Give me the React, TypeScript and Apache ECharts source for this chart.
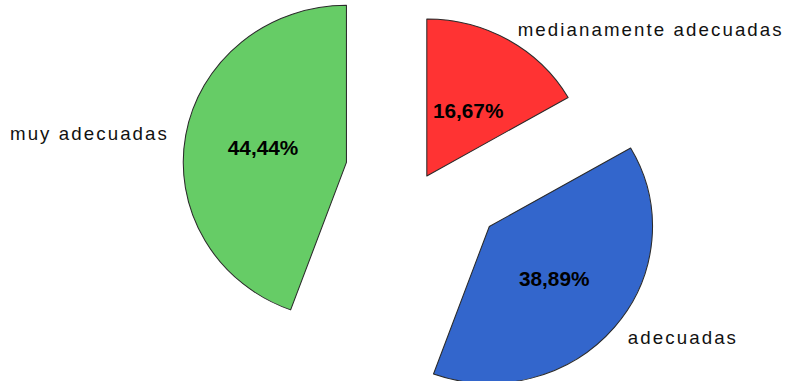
import React, { useEffect, useRef } from "react";
import * as echarts from "echarts";

// ---- data ----
const categories = ["medianamente adecuadas", "adecuadas", "muy adecuadas"];
const counts = [3, 7, 8];
const exploded = [false, true, true];
const sliceColors = ["#FF3333", "#3366CC", "#66CC66"];

// ---- layout (unscaled chart coords) ----
const labelAnchors: [number, number][] = [
  [498, 30],
  [604, 338],
  [9.6, 134],
];
const percentLabelNudge: [number, number][] = [
  [-1, 6],
  [0, -1],
  [-2, 3],
];

const SCALE_X = 790 / 760;

export default function App() {
  const ref = useRef<HTMLDivElement>(null);

  useEffect(() => {
    const el = ref.current;
    if (!el) return;
    const chart = echarts.init(el, null, { renderer: "svg" });

    const sliceData = categories.map((name, i) => ({
      name,
      value: counts[i],
      selected: exploded[i],
      itemStyle: { color: sliceColors[i] },
      label: { offset: percentLabelNudge[i] },
    }));
    const nameData = categories.map((name, i) => ({
      name,
      value: counts[i],
    }));

    const applySpacing = () => {
      el.querySelectorAll("text").forEach((t) => {
        if (categories.includes((t.textContent || "").trim())) {
          t.setAttribute("letter-spacing", "2");
        }
      });
    };

    chart.setOption({
      animation: false,
      series: [
        {
          type: "pie",
          center: [410.6, 176],
          radius: 157,
          startAngle: 90,
          clockwise: true,
          selectedMode: "multiple",
          selectedOffset: 78.5,
          avoidLabelOverlap: false,
          itemStyle: { borderColor: "#2a2a2a", borderWidth: 1 },
          label: {
            show: true,
            position: "inside",
            formatter: (p: any) => p.percent.toFixed(2).replace(".", ",") + "%",
            fontFamily: "Liberation Sans",
            fontSize: 20,
            fontWeight: "bold",
            color: "#000",
          },
          labelLine: { show: false },
          emphasis: { disabled: true },
          data: sliceData,
        },
        {
          type: "pie",
          silent: true,
          center: [410.6, 176],
          radius: 157,
          startAngle: 90,
          clockwise: true,
          avoidLabelOverlap: false,
          itemStyle: { color: "rgba(0,0,0,0)", borderWidth: 0 },
          label: {
            show: true,
            position: "outside",
            formatter: "{b}",
            fontFamily: "Liberation Sans",
            fontSize: 18,
            color: "#111",
          },
          labelLine: { show: false },
          labelLayout: (params: any) => ({
            x: labelAnchors[params.dataIndex][0],
            y: labelAnchors[params.dataIndex][1],
            align: "left",
            verticalAlign: "middle",
          }),
          emphasis: { disabled: true },
          data: nameData,
        },
      ],
    });
    applySpacing();
    chart.on("finished", applySpacing);

    return () => {
      chart.dispose();
    };
  }, []);

  return (
    <div
      ref={ref}
      style={{
        position: "fixed",
        left: 0,
        top: 0,
        width: 760,
        height: 381,
        transform: `scaleX(${SCALE_X})`,
        transformOrigin: "0 0",
        background: "#fff",
      }}
    />
  );
}
